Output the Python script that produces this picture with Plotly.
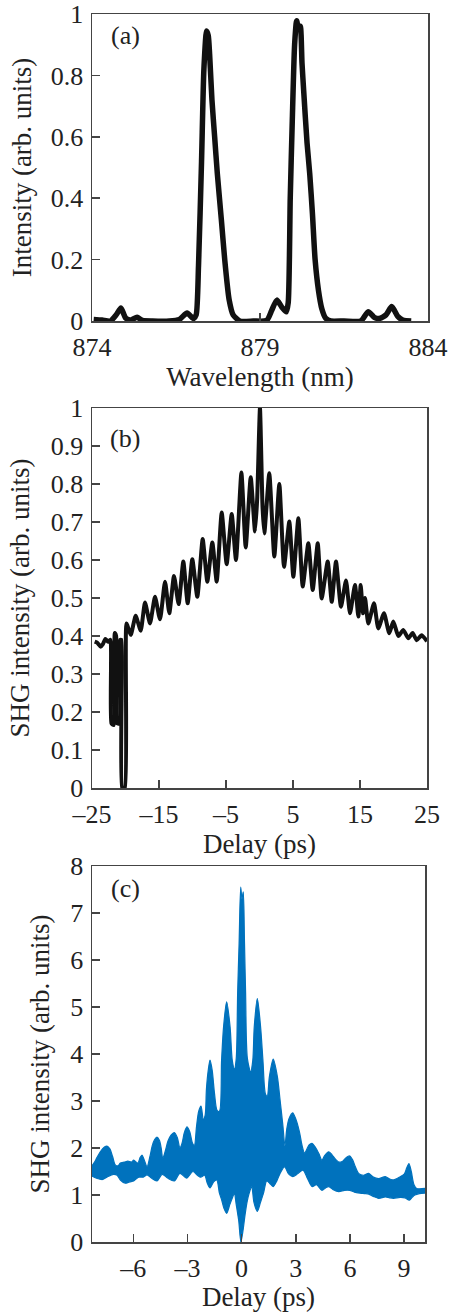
import plotly.graph_objects as go

# ---------------- Panel (a): spectrum ----------------
wavelength_nm = [874.05, 874.3, 874.55, 874.72, 874.86, 875.0, 875.15, 875.34, 875.5, 875.8,
                 876.3, 876.6, 876.83, 877.02, 877.1, 877.17, 877.26, 877.33, 877.41, 877.46,
                 877.5, 877.57, 877.65, 877.73, 877.85, 877.95, 878.08, 878.2, 878.4, 878.8,
                 879.2, 879.35, 879.5, 879.65, 879.78, 879.84, 879.9, 879.96, 880.03, 880.09,
                 880.15, 880.2, 880.25, 880.3, 880.4, 880.48, 880.56, 880.64, 880.74, 880.84,
                 880.95, 881.1, 881.5, 882.0, 882.22, 882.4, 882.55, 882.75, 882.92, 883.1,
                 883.25, 883.5]
intensity_a = [0.005, 0.003, 0.0, 0.02, 0.042, 0.01, 0.003, 0.012, 0.002, 0.0,
               0.0, 0.005, 0.026, 0.008, 0.02, 0.18, 0.52, 0.82, 0.945, 0.93,
               0.87, 0.72, 0.6, 0.48, 0.33, 0.2, 0.07, 0.02, 0.0, 0.0,
               0.002, 0.035, 0.068, 0.045, 0.03, 0.06, 0.40, 0.65, 0.90, 0.978,
               0.95, 0.96, 0.84, 0.75, 0.58, 0.48, 0.35, 0.2, 0.1, 0.04,
               0.01, 0.0, 0.0, 0.0, 0.03, 0.012, 0.008, 0.02, 0.047, 0.015,
               0.003, 0.0]

# ---------------- Panel (b): SHG autocorrelation ----------------
delay_b_ps = [-24.6, -24.2, -23.7, -23.4, -23.0, -22.6, -22.25, -22.1, -21.75, -21.6,
              -21.4, -21.25, -20.9, -20.8, -20.62, -20.5, -20.1, -19.85, -19.22, -18.48,
              -17.73, -17.09, -16.34, -15.6, -14.85, -14.1, -13.46, -12.76, -12.07, -11.37,
              -10.72, -10.03, -9.28, -8.48, -7.79, -7.04, -6.39, -5.64, -4.9, -4.15,
              -3.51, -2.7, -2.06, -1.31, -0.67, -0.35, 0.07, 0.45, 0.72, 1.46,
              2.21, 2.96, 3.66, 4.45, 5.05, 5.8, 6.45, 7.29, 7.94, 8.69,
              9.28, 10.18, 10.78, 11.42, 12.16, 12.91, 13.51, 14.25, 14.75, 15.1,
              15.45, 15.75, 16.24, 17.09, 17.73, 18.58, 19.37, 19.97, 20.72, 21.46,
              22.2, 22.86, 23.46, 24.2, 25.0]
shg_b = [0.385, 0.382, 0.372, 0.378, 0.392, 0.385, 0.39, 0.17, 0.166, 0.408,
         0.40, 0.17, 0.17, 0.39, 0.39, 0.0, 0.0, 0.433, 0.403, 0.453,
         0.414, 0.488, 0.433, 0.503, 0.444, 0.543, 0.46, 0.558, 0.484, 0.596,
         0.486, 0.602, 0.503, 0.655, 0.543, 0.646, 0.543, 0.725, 0.589, 0.721,
         0.60, 0.83, 0.633, 0.818, 0.675, 0.76, 1.0, 0.74, 0.67, 0.828,
         0.609, 0.80, 0.582, 0.701, 0.556, 0.71, 0.53, 0.644, 0.521, 0.644,
         0.499, 0.596, 0.49, 0.596, 0.477, 0.546, 0.46, 0.534, 0.451, 0.534,
         0.46, 0.50, 0.433, 0.486, 0.42, 0.46, 0.407, 0.438, 0.40, 0.416,
         0.394, 0.408, 0.389, 0.402, 0.386]

# ---------------- Panel (c): interferometric SHG (upper / lower envelope of the fringes) ----------------
delay_c_upper_ps = [-8.29, -8.15, -8.01, -7.83, -7.60, -7.46, -7.30, -7.15, -7.00, -6.85,
                    -6.72, -6.50, -6.30, -6.10, -5.98, -5.75, -5.62, -5.52, -5.40, -5.24,
                    -5.08, -4.95, -4.82, -4.69, -4.55, -4.45, -4.37, -4.22, -4.08, -3.90,
                    -3.73, -3.56, -3.42, -3.30, -3.18, -3.03, -2.88, -2.72, -2.62, -2.50,
                    -2.38, -2.25, -2.12, -2.02, -1.95, -1.85, -1.75, -1.63, -1.50, -1.36,
                    -1.23, -1.11, -1.00, -0.83, -0.64, -0.52, -0.40, -0.30, -0.22, -0.14,
                    -0.05, 0.02, 0.09, 0.16, 0.22, 0.32, 0.50, 0.62, 0.70, 0.87,
                    1.05, 1.18, 1.32, 1.42, 1.54, 1.75, 1.98, 2.13, 2.28, 2.40,
                    2.50, 2.62, 2.83, 3.00, 3.20, 3.35, 3.49, 3.62, 3.75, 3.90,
                    4.08, 4.28, 4.45, 4.60, 4.82, 5.00, 5.20, 5.38, 5.60, 5.80,
                    5.99, 6.15, 6.30, 6.48, 6.75, 7.04, 7.30, 7.59, 7.96, 8.20,
                    8.42, 8.79, 9.02, 9.15, 9.27, 9.40, 9.55, 9.70, 10.16]
shg_c_upper = [1.62, 1.70, 1.80, 1.92, 2.02, 2.04, 1.98, 1.82, 1.64, 1.62,
               1.68, 1.70, 1.72, 1.70, 1.74, 1.68, 1.80, 1.85, 1.75, 1.60,
               1.82, 2.05, 2.18, 2.23, 2.16, 1.98, 1.78, 1.95, 2.15, 2.28,
               2.33, 2.22, 2.00, 2.10, 2.32, 2.45, 2.35, 2.10, 2.05, 2.45,
               2.78, 2.89, 2.60, 2.70, 3.25, 3.65, 3.87, 3.65, 3.15, 2.80,
               2.78, 3.87, 4.58, 5.11, 4.58, 3.87, 3.68, 3.90, 5.30, 6.35,
               7.55, 7.30, 7.45, 6.35, 5.30, 3.90, 3.62, 3.87, 4.58, 5.18,
               4.58, 3.87, 3.15, 3.10, 3.52, 3.89, 3.52, 3.02, 2.50, 2.05,
               2.40, 2.62, 2.75, 2.62, 2.35, 2.05, 1.89, 1.98, 2.07, 2.10,
               2.02, 1.88, 1.74, 1.84, 1.92, 1.86, 1.76, 1.70, 1.72, 1.80,
               1.83, 1.75, 1.60, 1.46, 1.42, 1.46, 1.38, 1.35, 1.39, 1.34,
               1.32, 1.39, 1.45, 1.58, 1.67, 1.50, 1.22, 1.14, 1.14]
delay_c_lower_ps = [-8.29, -8.00, -7.70, -7.46, -7.10, -6.90, -6.72, -6.45, -6.20, -5.98,
                    -5.70, -5.45, -5.24, -5.00, -4.69, -4.40, -4.10, -3.73, -3.42, -3.05,
                    -2.70, -2.45, -2.27, -2.05, -1.90, -1.75, -1.55, -1.38, -1.23, -1.11,
                    -0.98, -0.83, -0.65, -0.50, -0.40, -0.30, -0.16, -0.04, 0.08, 0.18,
                    0.30, 0.42, 0.56, 0.68, 0.87, 1.05, 1.22, 1.39, 1.55, 1.75,
                    1.95, 2.13, 2.38, 2.60, 2.83, 3.10, 3.40, 3.65, 3.90, 4.15,
                    4.45, 4.65, 4.82, 5.05, 5.38, 5.70, 5.99, 6.25, 6.56, 6.80,
                    7.04, 7.30, 7.59, 7.96, 8.20, 8.42, 8.79, 9.05, 9.29, 9.45,
                    9.60, 9.85, 10.16]
shg_c_lower = [1.40, 1.35, 1.33, 1.38, 1.44, 1.42, 1.32, 1.25, 1.28, 1.30,
               1.38, 1.38, 1.43, 1.36, 1.30, 1.44, 1.36, 1.30, 1.46, 1.36,
               1.50, 1.42, 1.38, 1.42, 1.25, 1.15, 1.28, 1.32, 1.04, 0.90,
               0.72, 0.61, 0.80, 0.95, 1.04, 0.80, 0.45, 0.00, 0.25, 0.55,
               0.85, 1.04, 1.18, 0.85, 0.65, 0.85, 1.05, 1.30, 1.25, 1.18,
               1.30, 1.46, 1.60, 1.45, 1.39, 1.45, 1.53, 1.35, 1.18, 1.22,
               1.10, 1.15, 1.18, 1.12, 1.07, 1.10, 1.10, 1.06, 1.04, 1.03,
               1.02, 0.97, 0.93, 0.96, 0.94, 0.93, 0.95, 0.94, 0.89, 0.95,
               1.00, 1.03, 1.04]

# ---------------- Tick labels ----------------
a_xticks = [874, 879, 884]
a_xticktext = ["874", "879", "884"]
a_yticks = [0, 0.2, 0.4, 0.6, 0.8, 1]
a_yticktext = ["0", "0.2", "0.4", "0.6", "0.8", "1"]
b_xticks = [-25, -15, -5, 5, 15, 25]
b_xticktext = ["\u201325", "\u201315", "\u20135", "5", "15", "25"]
b_yticks = [0, 0.1, 0.2, 0.3, 0.4, 0.5, 0.6, 0.7, 0.8, 0.9, 1]
b_yticktext = ["0", "0.1", "0.2", "0.3", "0.4", "0.5", "0.6", "0.7", "0.8", "0.9", "1"]
c_xticks = [-6, -3, 0, 3, 6, 9]
c_xticktext = ["\u20136", "\u20133", "0", "3", "6", "9"]
c_yticks = [0, 1, 2, 3, 4, 5, 6, 7, 8]
c_yticktext = ["0", "1", "2", "3", "4", "5", "6", "7", "8"]

W, H = 450, 1312
FONT = "Liberation Serif"
BLUE = "#0072BD"
AXC = "#444444"


def xd(l, r):
    return [l / W, r / W]


def yd(top, bottom):
    return [1 - bottom / H, 1 - top / H]


fig = go.Figure()
fig.add_trace(go.Scatter(x=wavelength_nm, y=intensity_a, mode="lines",
                         line=dict(color="#111111", width=5.5, shape="spline", smoothing=0.6),
                         xaxis="x", yaxis="y", hoverinfo="skip"))
fig.add_trace(go.Scatter(x=delay_b_ps, y=shg_b, mode="lines",
                         line=dict(color="#111111", width=4, shape="spline", smoothing=0.5),
                         xaxis="x2", yaxis="y2", hoverinfo="skip"))
fig.add_trace(go.Scatter(x=delay_c_lower_ps, y=shg_c_lower, mode="lines",
                         line=dict(color=BLUE, width=1.2, shape="spline", smoothing=0.8),
                         xaxis="x3", yaxis="y3", hoverinfo="skip"))
fig.add_trace(go.Scatter(x=delay_c_upper_ps, y=shg_c_upper, mode="lines", fill="tonexty",
                         fillcolor=BLUE,
                         line=dict(color=BLUE, width=1.2, shape="spline", smoothing=0.8),
                         xaxis="x3", yaxis="y3", hoverinfo="skip"))

tickfont = dict(family=FONT, size=26, color="#222222")
titlefont = dict(family=FONT, size=27, color="#222222")


def axis(domain, rng, tv, tt, title, anchor, standoff):
    return dict(domain=domain, range=rng, tickvals=tv, ticktext=tt, anchor=anchor,
                showline=True, mirror=True, linecolor=AXC, linewidth=1.5,
                ticks="inside", ticklen=8, tickwidth=1.5, tickcolor=AXC,
                showgrid=False, zeroline=False, tickfont=tickfont,
                ticklabelstandoff=2, ticklabeloverflow="allow",
                title=dict(text=title, font=titlefont, standoff=standoff),
                automargin=False, fixedrange=True)


fig.update_layout(
    width=W, height=H, margin=dict(l=0, r=0, t=0, b=0),
    paper_bgcolor="white", plot_bgcolor="white", showlegend=False,
    xaxis=axis(xd(92, 428), [874, 884], a_xticks, a_xticktext, "Wavelength (nm)", "y", 3),
    yaxis=axis(yd(14, 321), [0, 1], a_yticks, a_yticktext, "Intensity (arb. units)", "x", 11),
    xaxis2=axis(xd(92, 427), [-25, 25], b_xticks, b_xticktext, "Delay (ps)", "y2", 1),
    yaxis2=axis(yd(408, 788), [0, 1], b_yticks, b_yticktext, "SHG intensity (arb. units)", "x2", 13),
    xaxis3=axis(xd(92, 425), [-8.29, 10.16], c_xticks, c_xticktext, "Delay (ps)", "y3", 3),
    yaxis3=axis(yd(866, 1242), [0, 8], c_yticks, c_yticktext, "SHG intensity (arb. units)", "x3", 13),
    annotations=[
        dict(text="(a)", x=125 / W, y=1 - 35 / H, xref="paper", yref="paper",
             xanchor="center", yanchor="middle",
             showarrow=False, font=dict(family=FONT, size=26, color="#222222")),
        dict(text="(b)", x=125 / W, y=1 - 438 / H, xref="paper", yref="paper",
             xanchor="center", yanchor="middle",
             showarrow=False, font=dict(family=FONT, size=26, color="#222222")),
        dict(text="(c)", x=125 / W, y=1 - 888 / H, xref="paper", yref="paper",
             xanchor="center", yanchor="middle",
             showarrow=False, font=dict(family=FONT, size=26, color="#222222")),
    ],
)

fig.write_html(
    "out.html",
    config={"displayModeBar": False, "staticPlot": True},
    post_script="document.body.style.margin='0';document.body.style.overflow='hidden';",
)
